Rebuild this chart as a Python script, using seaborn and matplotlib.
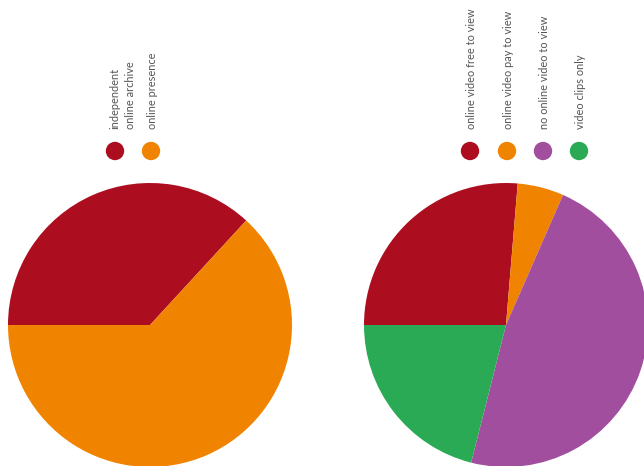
import matplotlib
matplotlib.use("Agg")
import matplotlib.pyplot as plt
import seaborn as sns

sns.set_theme(style="white")
plt.rcParams['font.family'] = ['Lato', 'DejaVu Sans']

# Data
left_labels = ["independent\nonline archive", "online presence"]
left_values = [7, 12]
left_colors = ["#AC0E20", "#F08300"]

right_labels = ["online video free to view", "online video pay to view",
                "no online video to view", "video clips only"]
right_values = [5, 1, 9, 4]
right_colors = ["#AC0E20", "#F08300", "#A24E9E", "#2BAA55"]

W, H = 644, 466
fig = plt.figure(figsize=(W / 100, H / 100), dpi=100)
ax = fig.add_axes([0, 0, 1, 1])
ax.set_xlim(0, W)
ax.set_ylim(0, H)
ax.set_aspect("equal")
ax.axis("off")

def draw_group(values, labels, colors, center, radius, legend_x, legend_y, text_y, text_dx):
    ax.pie(values, colors=colors, startangle=180, counterclock=False,
           center=center, radius=radius, frame=True,
           wedgeprops=dict(linewidth=0))
    sns.scatterplot(x=legend_x, y=[legend_y] * len(legend_x), hue=labels,
                    palette=colors, s=175, linewidth=0, legend=False, ax=ax)
    for x, lab, dx in zip(legend_x, labels, text_dx):
        ax.text(x + dx, text_y, lab, rotation=90, rotation_mode="anchor",
                ha="left", va="center", fontsize=7.9, color="#555555",
                linespacing=1.45)

draw_group(left_values, left_labels, left_colors, (150, H - 325), 142,
           [115, 151], H - 151, H - 129, [7.5, 2])
draw_group(right_values, right_labels, right_colors, (506, H - 325), 142,
           [470, 507, 543, 579], H - 151, H - 129, [2, 2, 2, 2])

ax.set_xlim(0, W)
ax.set_ylim(0, H)
ax.axis("off")
fig.savefig("out.png", dpi=100)
